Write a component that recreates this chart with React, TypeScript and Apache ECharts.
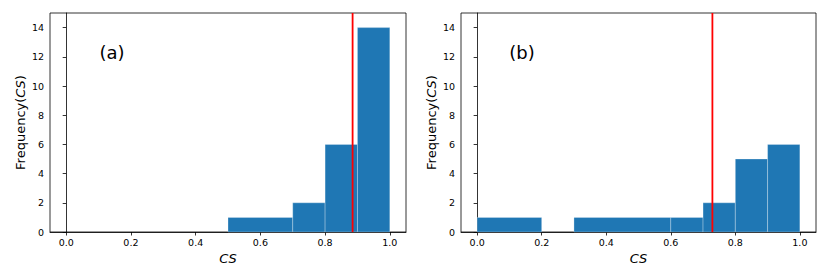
import React, { useEffect, useRef } from "react";
import * as echarts from "echarts";

// Histogram bins: [left edge, right edge, count]
const binsA: [number, number, number][] = [
  [0.5, 0.7, 1],
  [0.7, 0.8, 2],
  [0.8, 0.9, 6],
  [0.9, 1.0, 14],
];
const binsB: [number, number, number][] = [
  [0.0, 0.2, 1],
  [0.3, 0.6, 1],
  [0.6, 0.7, 1],
  [0.7, 0.8, 2],
  [0.8, 0.9, 5],
  [0.9, 1.0, 6],
];
const thresholdA = 0.885;
const thresholdB = 0.729;
const panelLabels = ["(a)", "(b)"];
const xTicks = [0, 0.2, 0.4, 0.6, 0.8, 1.0];
const yMax = 15;

const FONT = "DejaVu Sans";

export default function App() {
  const ref = useRef<HTMLDivElement>(null);
  useEffect(() => {
    document.body.style.margin = "0";
    const chart = echarts.init(ref.current!, null, { renderer: "svg" });
    const grids = [
      { left: 50, top: 13, width: 356, height: 219 },
      { left: 461, top: 13, width: 355, height: 219 },
    ];
    const xAxes = grids.map((_, i) => ({
      type: "value" as const,
      gridIndex: i,
      min: -0.05,
      max: 1.05,
      name: "CS",
      nameLocation: "middle" as const,
      nameGap: 17,
      nameTextStyle: { fontFamily: FONT, fontSize: 13, fontStyle: "italic", color: "#000" },
      axisLine: { show: true, lineStyle: { color: "#000", width: 0.8 } },
      axisTick: { show: true, length: 3.5, lineStyle: { color: "#000", width: 0.8 }, customValues: xTicks },
      axisLabel: {
        fontFamily: FONT,
        fontSize: 9.5,
        color: "#000",
        margin: 5,
        customValues: xTicks,
        formatter: (v: number) => v.toFixed(1),
      },
      splitLine: { show: false },
    }));
    const yAxes = grids.map((_, i) => ({
      type: "value" as const,
      gridIndex: i,
      min: 0,
      max: yMax,
      interval: 2,
      name: "{n|Frequency(}{i|CS}{n|)}",
      nameLocation: "middle" as const,
      nameGap: 23,
      nameTextStyle: {
        rich: {
          n: { fontFamily: FONT, fontSize: 13, color: "#000" },
          i: { fontFamily: FONT, fontSize: 13, fontStyle: "italic", color: "#000" },
        },
      },
      axisLine: { show: true, lineStyle: { color: "#000", width: 0.8 } },
      axisTick: { show: true, length: 3.5, lineStyle: { color: "#000", width: 0.8 } },
      axisLabel: {
        fontFamily: FONT,
        fontSize: 9.5,
        color: "#000",
        margin: 6,
        showMaxLabel: false,
        formatter: (v: number) => (v <= 14 ? String(v) : ""),
      },
      splitLine: { show: false },
    }));
    const renderItem = (params: any, api: any) => {
      const x0 = api.value(0);
      const x1 = api.value(1);
      const y = api.value(2);
      const p0 = api.coord([x0, y]);
      const p1 = api.coord([x1, 0]);
      return {
        type: "rect",
        shape: { x: p0[0], y: p0[1], width: p1[0] - p0[0], height: p1[1] - p0[1] },
        style: { fill: "#1f77b4", stroke: "rgba(255,255,255,0.35)", lineWidth: 0.8 },
      };
    };
    const binsAll = [binsA, binsB];
    const thresholds = [thresholdA, thresholdB];
    const series: any[] = [];
    binsAll.forEach((bins, i) => {
      series.push({
        type: "custom",
        xAxisIndex: i,
        yAxisIndex: i,
        renderItem,
        data: bins,
        z: 2,
      });
      series.push({
        type: "line",
        xAxisIndex: i,
        yAxisIndex: i,
        data: [
          [thresholds[i], 0],
          [thresholds[i], yMax],
        ],
        symbol: "none",
        lineStyle: { color: "#ff0000", width: 1.8 },
        z: 3,
      });
    });
    chart.setOption({
      animation: false,
      backgroundColor: "#fff",
      grid: grids.map((g) => ({ ...g, show: true, borderColor: "#000", borderWidth: 0.8, backgroundColor: "transparent" })),
      xAxis: xAxes,
      yAxis: yAxes,
      series,
      graphic: [
        {
          type: "text",
          x: 112,
          y: 52,
          style: { text: panelLabels[0], fontFamily: FONT, fontSize: 18, fill: "#000", textAlign: "center", textVerticalAlign: "middle" },
        },
        {
          type: "text",
          x: 522,
          y: 52,
          style: { text: panelLabels[1], fontFamily: FONT, fontSize: 18, fill: "#000", textAlign: "center", textVerticalAlign: "middle" },
        },
      ],
    });
    return () => chart.dispose();
  }, []);
  return <div ref={ref} style={{ width: 830, height: 277 }} />;
}
